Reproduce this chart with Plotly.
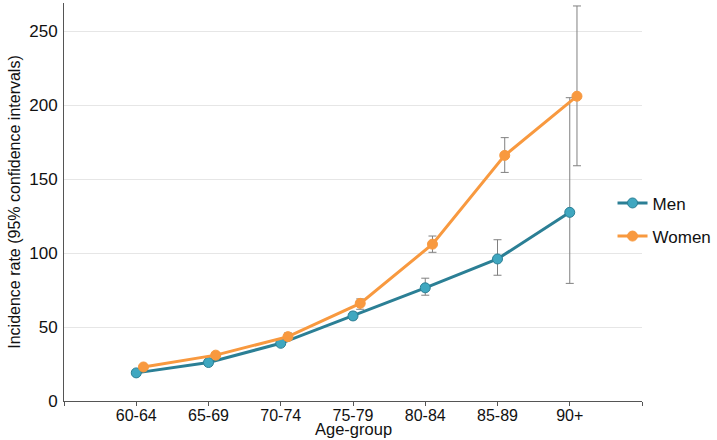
import plotly.graph_objects as go

age_groups = ["60-64", "65-69", "70-74", "75-79", "80-84", "85-89", "90+"]
men_rate = [19, 26, 39, 57.5, 76.5, 96, 127.5]
men_lo = [18, 24.5, 37, 55, 71.5, 85, 79.5]
men_hi = [20, 27.5, 41, 60, 83, 109, 205]
women_rate = [23, 31, 43.5, 66, 106, 166, 206]
women_lo = [22, 29.5, 41, 62, 100.5, 154.5, 159]
women_hi = [24, 32.5, 46, 69, 111.5, 178, 267]

idx = list(range(len(age_groups)))
dodge = 0.1

def err(rate, lo, hi):
    return [h - r for r, h in zip(rate, hi)], [r - l for r, l in zip(rate, lo)]

fig = go.Figure()
for name, rate, lo, hi, off, lc, mc, ml in [
    ("Men", men_rate, men_lo, men_hi, 0.0, "#2b7f95", "#3fa7c0", "#2b7f95"),
    ("Women", women_rate, women_lo, women_hi, dodge, "#f8993f", "#f8993f", "#f8993f"),
]:
    up, dn = err(rate, lo, hi)
    fig.add_trace(go.Scatter(
        x=[i + off for i in idx], y=rate, name=name, mode="lines+markers",
        legendgroup=name,
        line=dict(color=lc, width=3),
        marker=dict(size=10, color=mc, line=dict(color=ml, width=1)),
        error_y=dict(type="data", symmetric=False, array=up, arrayminus=dn,
                     color="#808080", thickness=1, width=4),
    ))

fig.update_layout(
    width=717, height=440,
    margin=dict(l=64, r=75, t=3, b=39, autoexpand=False),
    paper_bgcolor="white", plot_bgcolor="white",
    font=dict(family="Liberation Sans, Arial, sans-serif", size=17, color="#111"),
    showlegend=True,
    legend=dict(x=0.949, y=0.455, xanchor="left", yanchor="middle",
                font=dict(size=17), bgcolor="rgba(0,0,0,0)", tracegroupgap=8,
                traceorder="grouped", itemwidth=30),
    annotations=[dict(text="Age-group", x=0.5, xref="paper", y=-0.0955, yref="paper",
                      xanchor="center", yanchor="bottom", showarrow=False,
                      borderpad=0, font=dict(size=16.5))],
)
fig.update_xaxes(
    range=[-1, 7], tickmode="array",
    tickvals=[-1] + idx + [7], ticktext=[""] + age_groups + [""],
    showgrid=False, showline=True, linecolor="#555", linewidth=1,
    ticks="outside", ticklen=4, tickcolor="#555", zeroline=False,
    tickfont=dict(size=16), ticklabelstandoff=-4, automargin=False,
)
fig.update_yaxes(
    range=[0, 269], tickvals=[0, 50, 100, 150, 200, 250],
    showgrid=True, gridcolor="#e6e6e6", gridwidth=1,
    showline=True, linecolor="#555", linewidth=1, zeroline=False,
    ticks="", ticklabelstandoff=2, automargin=False,
    title=dict(text="Incidence rate (95% confidence intervals)", standoff=4, font=dict(size=16)),
)
fig.write_html("out.html", config={"displayModeBar": False},
               post_script="document.body.style.margin='0';")
